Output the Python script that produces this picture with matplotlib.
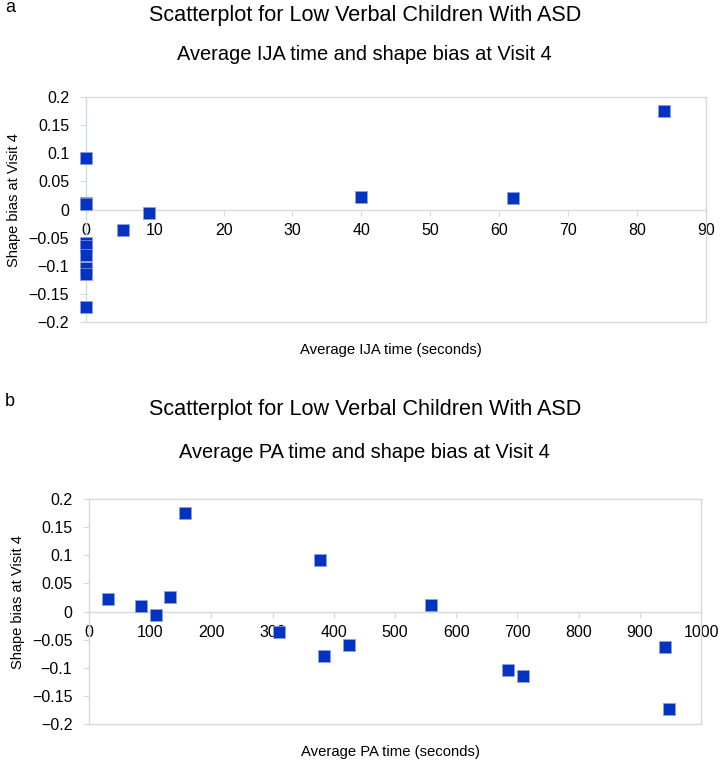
import matplotlib.pyplot as plt

plt.rcParams["font.family"] = ["Liberation Sans", "DejaVu Sans"]

# panel a: average IJA time vs shape bias
ija_time = [0, 0, 0, 0, 0, 0, 0, 0, 0, 5.4, 9.2, 40, 62, 83.9]
ija_bias = [0.092, 0.012, 0.009, -0.06, -0.064, -0.08, -0.104, -0.115, -0.174,
            -0.037, -0.007, 0.023, 0.021, 0.175]

# panel b: average PA time vs shape bias
pa_time = [31, 85, 110, 133, 157, 311, 377, 384, 424, 558, 684, 709, 941, 948]
pa_bias = [0.023, 0.009, -0.007, 0.025, 0.175, -0.037, 0.092, -0.08, -0.06,
           0.012, -0.104, -0.115, -0.064, -0.174]

y_ticks = [-0.2, -0.15, -0.1, -0.05, 0, 0.05, 0.1, 0.15, 0.2]
y_labels = ["\u22120.2", "\u22120.15", "\u22120.1", "\u22120.05", "0", "0.05", "0.1", "0.15", "0.2"]

MARKER = "#0433c2"
FRAME = "#d5dae0"

fig = plt.figure(figsize=(7.21, 7.62), dpi=100)


def fy(px):
    return 1 - px / 762


def draw_panel(rect, x, y, xmax, xstep, xlabel, subtitle, letter, title_px, sub_px, xlab_px):
    ax = fig.add_axes(rect)
    ax.scatter(x, y, s=78, marker="s", color=MARKER, edgecolor="#8ea0e0",
               linewidth=0.5, zorder=3, clip_on=False)
    ax.set_xlim(0, xmax)
    ax.set_ylim(-0.2, 0.2)
    ax.set_xticks(range(0, xmax + 1, xstep))
    ax.set_yticks(y_ticks)
    ax.set_yticklabels(y_labels)
    for side in ["left", "right", "top", "bottom"]:
        ax.spines[side].set_color(FRAME)
        ax.spines[side].set_linewidth(1.0)
    # x axis sits at zero, frame still closes at the bottom
    ax.spines["bottom"].set_position(("data", 0))
    ax.plot([0, 1], [0, 0], transform=ax.transAxes, color=FRAME, lw=1.0, clip_on=False)
    ax.tick_params(axis="x", length=4, color=FRAME, labelsize=11.5, pad=6)
    ax.tick_params(axis="y", length=4, color=FRAME, labelsize=11.5, pad=8)
    ax.set_ylabel("Shape bias at Visit 4", fontsize=10.5)
    ax.yaxis.set_label_coords(-0.105, 0.54)
    fig.text(0.542, fy(xlab_px), xlabel, ha="center", va="center", fontsize=10.7)
    fig.text(0.506, fy(title_px), "Scatterplot for Low Verbal Children With ASD",
             ha="center", va="center", fontsize=15.6)
    fig.text(0.506, fy(sub_px), subtitle, ha="center", va="center", fontsize=14.4)
    fig.text(0.007, fy(title_px - 9), letter, ha="left", va="center", fontsize=13)
    return ax


draw_panel([0.119, 0.5774, 0.860, 0.2953], ija_time, ija_bias, 90, 10,
           "Average IJA time (seconds)", "Average IJA time and shape bias at Visit 4",
           "a", 16, 55, 350)
draw_panel([0.1234, 0.0499, 0.849, 0.2952], pa_time, pa_bias, 1000, 100,
           "Average PA time (seconds)", "Average PA time and shape bias at Visit 4",
           "b", 410, 452, 752)

fig.savefig("out.png", dpi=100)
plt.close(fig)
